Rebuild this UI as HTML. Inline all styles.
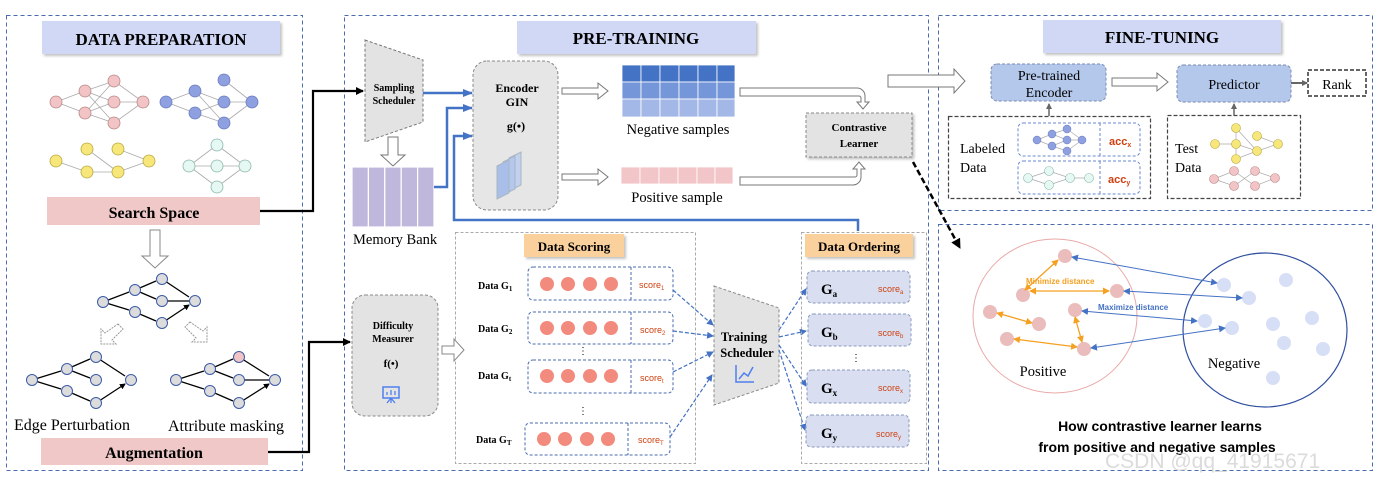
<!DOCTYPE html>
<html><head><meta charset="utf-8"><style>
html,body{margin:0;padding:0;background:#fff}
svg{display:block}
text{font-family:"Liberation Serif",serif}
.s{font-family:"Liberation Sans","DejaVu Sans",sans-serif}
</style></head><body>
<svg width="1379" height="483" viewBox="0 0 1379 483" xmlns="http://www.w3.org/2000/svg">
<defs>
<marker id="ab" markerWidth="8" markerHeight="8" refX="7" refY="4" orient="auto" markerUnits="userSpaceOnUse"><path d="M0,0 L8,4 L0,8z" fill="#000"/></marker>
<marker id="abs" markerWidth="6" markerHeight="6" refX="5" refY="3" orient="auto" markerUnits="userSpaceOnUse"><path d="M0,0 L6,3 L0,6z" fill="#000"/></marker>
<marker id="bl" markerWidth="10" markerHeight="10" refX="9" refY="5" orient="auto" markerUnits="userSpaceOnUse"><path d="M0,1 L10,5 L0,9z" fill="#4472c4"/></marker>
<marker id="bls" markerWidth="7" markerHeight="7" refX="6" refY="3.5" orient="auto-start-reverse" markerUnits="userSpaceOnUse"><path d="M0,0 L7,3.5 L0,7z" fill="#4472c4"/></marker>
<marker id="or" markerWidth="7" markerHeight="7" refX="6" refY="3.5" orient="auto-start-reverse" markerUnits="userSpaceOnUse"><path d="M0,0 L7,3.5 L0,7z" fill="#f5a020"/></marker>
<marker id="gr" markerWidth="6" markerHeight="6" refX="5" refY="3" orient="auto" markerUnits="userSpaceOnUse"><path d="M0,0 L6,3 L0,6z" fill="#666"/></marker>
<marker id="bd" markerWidth="10" markerHeight="10" refX="9" refY="5" orient="auto" markerUnits="userSpaceOnUse"><path d="M0,0 L10,5 L0,10z" fill="#000"/></marker>
<filter id="sh" x="-5%" y="-5%" width="115%" height="130%"><feDropShadow dx="2" dy="2" stdDeviation="1.2" flood-color="#999" flood-opacity="0.6"/></filter>
</defs>

<g fill="none" stroke="#4a6bb0" stroke-width="1" stroke-dasharray="4,3">
<rect x="6.5" y="15.5" width="296" height="455"/>
<rect x="344.5" y="15.5" width="584" height="455"/>
<rect x="938.5" y="15.5" width="434" height="195"/>
<rect x="938.5" y="224.5" width="434" height="246"/>
</g>

<rect x="42" y="21" width="238" height="33" fill="#d0d8f5" filter="url(#sh)"/>
<text x="161" y="45" font-size="17" font-weight="bold" text-anchor="middle">DATA PREPARATION</text>
<rect x="517" y="21" width="239" height="33" fill="#d0d8f5" filter="url(#sh)"/>
<text x="636" y="44" font-size="17" font-weight="bold" text-anchor="middle">PRE-TRAINING</text>
<rect x="1043" y="20" width="238" height="33" fill="#d0d8f5" filter="url(#sh)"/>
<text x="1162" y="43" font-size="17" font-weight="bold" text-anchor="middle">FINE-TUNING</text>

<g stroke="#aaa" stroke-width="0.8" fill="none">
<path d="M56,102L85,91M56,102L85,113M85,91L114,81M85,91L114,102M85,91L114,123M85,113L114,81M85,113L114,102M85,113L114,123M114,81L143,102M114,102L143,102M114,123L143,102"/>
<path d="M166,102L195,91M166,102L195,113M195,91L224,102M195,91L224,123M195,113L224,102M195,113L224,123M224,80L252,102M224,102L252,102M224,123L252,102"/>
<path d="M56,161L87,172M87,149L118,172M87,172L118,172M118,149L149,161M118,172L149,161"/>
<path d="M189,166L217,145M189,166L217,166M189,166L217,187M217,145L245,166M217,166L245,166M217,187L245,166"/>
</g>
<g stroke="#b98888" stroke-width="0.8" fill="#f2c4c6">
<circle cx="56" cy="102" r="6"/><circle cx="85" cy="91" r="6"/><circle cx="85" cy="113" r="6"/><circle cx="114" cy="81" r="6"/><circle cx="114" cy="102" r="6"/><circle cx="114" cy="123" r="6"/><circle cx="143" cy="102" r="6"/></g>
<g stroke="#6a7cc0" stroke-width="0.8" fill="#8ea0e0">
<circle cx="166" cy="102" r="6"/><circle cx="195" cy="91" r="6"/><circle cx="195" cy="113" r="6"/><circle cx="224" cy="80" r="6"/><circle cx="224" cy="102" r="6"/><circle cx="224" cy="123" r="6"/><circle cx="252" cy="102" r="6"/></g>
<g stroke="#b8a840" stroke-width="0.8" fill="#f7e77a">
<circle cx="56" cy="161" r="6"/><circle cx="87" cy="149" r="6"/><circle cx="87" cy="172" r="6"/><circle cx="118" cy="149" r="6"/><circle cx="118" cy="172" r="6"/><circle cx="149" cy="161" r="6"/></g>
<g stroke="#8ab8a8" stroke-width="0.8" fill="#e6f8f3">
<circle cx="217" cy="145" r="6"/><circle cx="189" cy="166" r="6"/><circle cx="217" cy="166" r="6"/><circle cx="245" cy="166" r="6"/><circle cx="217" cy="187" r="6"/></g>

<rect x="47" y="197" width="213" height="28" fill="#f0c8c8"/>
<text x="154" y="218" font-size="16" font-weight="bold" text-anchor="middle">Search Space</text>

<path d="M150,230h10v26h8l-13,12l-13,-12h8z" fill="#fff" stroke="#888"/>

<g stroke="#000" stroke-width="1.3" fill="none" marker-end="url(#abs)">
<path d="M103,302L129,292M135,290L156,281M135,290L156,299M162,279L189,297M162,301L189,301M103,302L129,310M135,312L156,321M162,323L189,305"/>
<path d="M32,380L61,371M67,369L90,359M67,369L90,378M96,357L125,376M32,380L61,389M67,391L90,401M96,403L125,384"/>
<path d="M176,380L204,371M210,369L233,359M210,369L233,378M239,357L269,376M239,380L269,380M176,380L204,389M210,391L233,401M239,403L269,384"/>
</g>
<g stroke="#3a5aa8" stroke-width="1" fill="#dcdcdc">
<circle cx="103" cy="302" r="5.5"/><circle cx="135" cy="290" r="5.5"/><circle cx="162" cy="279" r="5.5"/><circle cx="162" cy="301" r="5.5"/><circle cx="195" cy="301" r="5.5"/><circle cx="135" cy="312" r="5.5"/><circle cx="162" cy="323" r="5.5"/>
<circle cx="32" cy="380" r="5.5"/><circle cx="67" cy="369" r="5.5"/><circle cx="96" cy="357" r="5.5"/><circle cx="96" cy="380" r="5.5"/><circle cx="131" cy="380" r="5.5"/><circle cx="67" cy="391" r="5.5"/><circle cx="96" cy="403" r="5.5"/>
<circle cx="176" cy="380" r="5.5"/><circle cx="210" cy="369" r="5.5"/><circle cx="239" cy="357" r="5.5" fill="#f2c4c6"/><circle cx="239" cy="380" r="5.5"/><circle cx="275" cy="380" r="5.5"/><circle cx="210" cy="391" r="5.5"/><circle cx="239" cy="403" r="5.5"/>
</g>
<path d="M118,324l5,5l-11,11l4,4h-15v-15l4,4z" fill="#fff" stroke="#999" stroke-dasharray="2,1"/>
<path d="M190,322l-5,5l11,11l-4,4h15v-15l-4,4z" fill="#fff" stroke="#999" stroke-dasharray="2,1"/>
<text x="14" y="430" font-size="16">Edge Perturbation</text>
<text x="168" y="431" font-size="16">Attribute masking</text>
<rect x="41" y="438" width="227" height="27" fill="#f0c8c8"/>
<text x="154" y="458" font-size="16" font-weight="bold" text-anchor="middle">Augmentation</text>

<path d="M260,211H313V91H363" fill="none" stroke="#000" stroke-width="2.2" marker-end="url(#ab)"/>
<path d="M268,452H309V342H350" fill="none" stroke="#000" stroke-width="2.2" marker-end="url(#ab)"/>

<path d="M365,40L423,60V122L365,142Z" fill="#e3e3e3" stroke="#777" stroke-dasharray="3,2"/>
<text x="394" y="91" font-size="10" font-weight="bold" text-anchor="middle">Sampling</text>
<text x="394" y="104" font-size="10" font-weight="bold" text-anchor="middle">Scheduler</text>
<path d="M388,137h10v18h7l-12,11l-12,-11h7z" fill="#fff" stroke="#777"/>
<g fill="#c0b8dc" stroke="#fff" stroke-width="1.2">
<rect x="352" y="167" width="16.4" height="60"/><rect x="368.4" y="167" width="16.4" height="60"/><rect x="384.8" y="167" width="16.4" height="60"/><rect x="401.2" y="167" width="16.4" height="60"/><rect x="417.6" y="167" width="16.4" height="60"/></g>
<text x="353" y="244" font-size="14.5">Memory Bank</text>

<rect x="473" y="61" width="85" height="149" rx="14" fill="#e6e6e6" stroke="#888" stroke-dasharray="3,2"/>
<text x="517" y="92" font-size="12" font-weight="bold" text-anchor="middle">Encoder</text>
<text x="517" y="106" font-size="12" font-weight="bold" text-anchor="middle">GIN</text>
<text x="516" y="130" font-size="12" font-weight="bold" text-anchor="middle">g(•)</text>
<g opacity="0.8"><path d="M509,158l12,-6v33l-12,6z" fill="#b9cdf0" stroke="#9ab"/><path d="M503,162l12,-6v33l-12,6z" fill="#a8c0ee" stroke="#9ab"/><path d="M497,166l12,-6v33l-12,6z" fill="#9bb6ea" stroke="#9ab"/></g>

<g fill="none" stroke="#4472c4" stroke-width="2.5">
<path d="M423,93H472" marker-end="url(#bl)"/>
<path d="M434,187H447V108H472" marker-end="url(#bl)"/>
<path d="M858,231V220H454V136H472" marker-end="url(#bl)"/>
</g>

<path d="M562,88h36v-5l10,8l-10,8v-5h-36z" fill="#fff" stroke="#777"/>
<path d="M562,174h36v-5l10,8l-10,8v-5h-36z" fill="#fff" stroke="#777"/>

<g stroke="#fff" stroke-width="0.8">
<g fill="#4472c4"><rect x="622" y="65" width="19" height="17"/><rect x="641" y="65" width="19" height="17"/><rect x="660" y="65" width="19" height="17"/><rect x="679" y="65" width="19" height="17"/><rect x="698" y="65" width="19" height="17"/><rect x="717" y="65" width="18" height="17"/></g>
<g fill="#7596d8"><rect x="622" y="82" width="19" height="17"/><rect x="641" y="82" width="19" height="17"/><rect x="660" y="82" width="19" height="17"/><rect x="679" y="82" width="19" height="17"/><rect x="698" y="82" width="19" height="17"/><rect x="717" y="82" width="18" height="17"/></g>
<g fill="#a3b8e6"><rect x="622" y="99" width="19" height="18"/><rect x="641" y="99" width="19" height="18"/><rect x="660" y="99" width="19" height="18"/><rect x="679" y="99" width="19" height="18"/><rect x="698" y="99" width="19" height="18"/><rect x="717" y="99" width="18" height="18"/></g>
<g fill="#f2c6c9"><rect x="621" y="167" width="19" height="17"/><rect x="640" y="167" width="19" height="17"/><rect x="659" y="167" width="19" height="17"/><rect x="678" y="167" width="19" height="17"/><rect x="697" y="167" width="18" height="17"/><rect x="715" y="167" width="18" height="17"/></g>
</g>
<text x="678" y="134" font-size="14.5" text-anchor="middle">Negative samples</text>
<text x="677" y="202" font-size="14.5" text-anchor="middle">Positive sample</text>

<path d="M740,88H857a8,8 0 0 1 8,8V102h4l-6,7l-6,-7h4V98a2,2 0 0 0 -2,-2H740z" fill="#fff" stroke="#777"/>
<path d="M740,177H855a2,2 0 0 0 2,-2V169h-4l6,-7l6,7h-4V177a8,8 0 0 1 -8,8H740z" fill="#fff" stroke="#777"/>

<rect x="806" y="113" width="106" height="44" fill="#e3e3e3" stroke="#888" stroke-dasharray="3,2" filter="url(#sh)"/>
<text x="859" y="131" font-size="11" font-weight="bold" text-anchor="middle">Contrastive</text>
<text x="859" y="147" font-size="11" font-weight="bold" text-anchor="middle">Learner</text>
<path d="M913,162L960,248" stroke="#000" stroke-width="2.5" stroke-dasharray="6,3" fill="none" marker-end="url(#bd)"/>
<path d="M888,75h66v-6l11,12l-11,12v-6h-66z" fill="#fff" stroke="#777"/>

<rect x="455.5" y="232.5" width="240" height="231" fill="none" stroke="#aaa" stroke-dasharray="3,2"/>
<rect x="524" y="234" width="100" height="23" fill="#fad09c" filter="url(#sh)"/>
<text x="574" y="251" font-size="13" font-weight="bold" text-anchor="middle">Data Scoring</text>
<g fill="none" stroke="#4a6bb0" stroke-dasharray="3,2">
<rect x="528" y="267" width="145" height="33" rx="5"/><line x1="631" y1="267" x2="631" y2="300"/>
<rect x="528" y="312" width="145" height="32" rx="5"/><line x1="631" y1="312" x2="631" y2="344"/>
<rect x="528" y="360" width="145" height="33" rx="5"/><line x1="631" y1="360" x2="631" y2="393"/>
<rect x="525" y="423" width="145" height="32" rx="5"/><line x1="628" y1="423" x2="628" y2="455"/>
</g>
<g fill="#f28b7e">
<circle cx="547" cy="284" r="7"/><circle cx="568" cy="284" r="7"/><circle cx="590" cy="284" r="7"/><circle cx="611" cy="284" r="7"/>
<circle cx="547" cy="328" r="7"/><circle cx="568" cy="328" r="7"/><circle cx="590" cy="328" r="7"/><circle cx="611" cy="328" r="7"/>
<circle cx="547" cy="376" r="7"/><circle cx="568" cy="376" r="7"/><circle cx="590" cy="376" r="7"/><circle cx="611" cy="376" r="7"/>
<circle cx="544" cy="439" r="7"/><circle cx="565" cy="439" r="7"/><circle cx="587" cy="439" r="7"/><circle cx="608" cy="439" r="7"/>
</g>
<g font-size="9" fill="#d04010">
<text x="639" y="288" class="s">score<tspan font-size="6" dy="2">1</tspan></text>
<text x="640" y="333" class="s">score<tspan font-size="6" dy="2">2</tspan></text>
<text x="640" y="381" class="s">score<tspan font-size="6" dy="2">t</tspan></text>
<text x="638" y="443" class="s">score<tspan font-size="6" dy="2">T</tspan></text>
</g>
<g font-size="10" font-weight="bold">
<text x="478" y="289">Data G<tspan font-size="7" dy="2">1</tspan></text>
<text x="478" y="332">Data G<tspan font-size="7" dy="2">2</tspan></text>
<text x="478" y="379">Data G<tspan font-size="7" dy="2">t</tspan></text>
<text x="476" y="443">Data G<tspan font-size="7" dy="2">T</tspan></text>
</g>
<text x="583" y="354" font-size="10" text-anchor="middle">⋮</text>
<text x="583" y="414" font-size="10" text-anchor="middle">⋮</text>
<path d="M442,346h12v-7l10,11l-10,11v-7h-12z" fill="#fff" stroke="#888"/>

<rect x="352" y="295" width="86" height="121" rx="13" fill="#e3e3e3" stroke="#888" stroke-dasharray="3,2"/>
<text x="393" y="329" font-size="10" font-weight="bold" text-anchor="middle">Difficulty</text>
<text x="393" y="342" font-size="10" font-weight="bold" text-anchor="middle">Measurer</text>
<text x="391" y="367" font-size="11" font-weight="bold" text-anchor="middle">f(•)</text>
<rect x="383" y="387" width="16" height="11" fill="none" stroke="#4f7ff0" stroke-width="1.5"/><path d="M387,395v-3M391,395v-5M395,395v-4M391,398v5M387,403l4,-5l4,5" stroke="#4f7ff0" stroke-width="1.3" fill="none"/>

<path d="M714,286L779,308V383L714,405Z" fill="#e3e3e3" stroke="#888" stroke-dasharray="3,2"/>
<text x="744" y="341" font-size="12.5" font-weight="bold" text-anchor="middle">Training</text>
<text x="747" y="357" font-size="12.5" font-weight="bold" text-anchor="middle">Scheduler</text>
<path d="M736,365v17h18M739,379l5,-6l4,3l5,-9" fill="none" stroke="#4f7ff0" stroke-width="1.5"/>

<g fill="none" stroke="#4472c4" stroke-width="1.2" stroke-dasharray="4,2">
<path d="M673,290L713,325" marker-end="url(#bls)"/>
<path d="M673,331L713,336" marker-end="url(#bls)"/>
<path d="M673,372L713,352" marker-end="url(#bls)"/>
<path d="M670,437L712,375" marker-end="url(#bls)"/>
<path d="M779,330L806,289" marker-end="url(#bls)"/>
<path d="M779,337L806,331" marker-end="url(#bls)"/>
<path d="M779,345L806,386" marker-end="url(#bls)"/>
<path d="M779,350L805,430" marker-end="url(#bls)"/>
</g>

<rect x="801.5" y="232.5" width="125" height="231" fill="none" stroke="#aaa" stroke-dasharray="3,2"/>
<rect x="805" y="234" width="108" height="23" fill="#fad09c" filter="url(#sh)"/>
<text x="859" y="251" font-size="13" font-weight="bold" text-anchor="middle">Data Ordering</text>
<g fill="#d9dff0" stroke="#8a9ac0" stroke-dasharray="3,2">
<rect x="807" y="271" width="103" height="32" rx="5"/><rect x="808" y="314" width="103" height="32" rx="5"/><rect x="807" y="370" width="103" height="33" rx="5"/><rect x="806" y="415" width="103" height="32" rx="5"/>
</g>
<g font-size="15" font-weight="bold">
<text x="821" y="294">G<tspan font-size="9" dy="3">a</tspan></text>
<text x="821" y="337">G<tspan font-size="9" dy="3">b</tspan></text>
<text x="821" y="393">G<tspan font-size="9" dy="3">x</tspan></text>
<text x="821" y="438">G<tspan font-size="9" dy="3">y</tspan></text>
</g>
<g font-size="9" fill="#d04010">
<text x="878" y="292" class="s">score<tspan font-size="6" dy="2">a</tspan></text>
<text x="878" y="336" class="s">score<tspan font-size="6" dy="2">b</tspan></text>
<text x="878" y="391" class="s">score<tspan font-size="6" dy="2">x</tspan></text>
<text x="876" y="437" class="s">score<tspan font-size="6" dy="2">y</tspan></text>
</g>
<text x="856" y="361" font-size="10" text-anchor="middle">⋮</text>

<rect x="991" y="64" width="115" height="37" rx="6" fill="#b4c8ec" stroke="#7a8ab0" stroke-dasharray="3,2"/>
<text x="1049" y="80" font-size="14" text-anchor="middle">Pre-trained</text>
<text x="1049" y="97" font-size="14" text-anchor="middle">Encoder</text>
<path d="M1112,78h45v-5l11,9l-11,9v-5h-45z" fill="#fff" stroke="#777"/>
<rect x="1177" y="65" width="114" height="37" rx="6" fill="#b4c8ec" stroke="#7a8ab0" stroke-dasharray="3,2"/>
<text x="1234" y="89" font-size="14" text-anchor="middle">Predictor</text>
<path d="M1291,83H1307" stroke="#666" stroke-width="2" marker-end="url(#gr)"/>
<rect x="1308" y="70" width="58" height="26" fill="none" stroke="#666" stroke-width="2" stroke-dasharray="4,2"/>
<text x="1337" y="89" font-size="14" text-anchor="middle">Rank</text>

<rect x="948.5" y="116.5" width="202" height="82" fill="none" stroke="#444" stroke-width="1.2" stroke-dasharray="4,2"/>
<path d="M1049,116V104" stroke="#666" stroke-width="1.5" marker-end="url(#gr)"/>
<text x="960" y="153" font-size="14">Labeled</text>
<text x="960" y="172" font-size="14">Data</text>
<g fill="none" stroke="#6a8ad0" stroke-dasharray="3,2"><rect x="1018" y="123" width="122" height="33" rx="5"/><line x1="1100" y1="123" x2="1100" y2="156"/><rect x="1018" y="161" width="122" height="33" rx="5"/><line x1="1100" y1="161" x2="1100" y2="194"/></g>
<g stroke="#aaa" stroke-width="0.7" fill="none"><path d="M1037,140L1052,134L1067,140L1082,140M1052,134L1067,129M1037,140L1052,146L1067,151M1052,146L1067,140M1067,129L1082,140M1067,151L1082,140"/><path d="M1028,178L1049,171L1070,178L1089,178M1028,178L1049,185L1070,178"/></g>
<g fill="#8ea0e0" stroke="#6a7cc0" stroke-width="0.5"><circle cx="1037" cy="140" r="4"/><circle cx="1052" cy="134" r="4"/><circle cx="1052" cy="146" r="4"/><circle cx="1067" cy="129" r="4"/><circle cx="1067" cy="140" r="4"/><circle cx="1067" cy="151" r="4"/><circle cx="1082" cy="140" r="4"/></g>
<g fill="#e6f8f3" stroke="#8ab8a8" stroke-width="0.6"><circle cx="1028" cy="178" r="4.5"/><circle cx="1049" cy="171" r="4.5"/><circle cx="1049" cy="185" r="4.5"/><circle cx="1070" cy="178" r="4.5"/><circle cx="1089" cy="178" r="4.5"/></g>
<text x="1109" y="145" class="s" font-size="11" font-weight="bold" fill="#d04010">acc<tspan font-size="7" dy="2">x</tspan></text>
<text x="1108" y="183" class="s" font-size="11" font-weight="bold" fill="#d04010">acc<tspan font-size="7" dy="2">y</tspan></text>

<rect x="1167.5" y="115.5" width="133" height="83" fill="none" stroke="#444" stroke-width="1.2" stroke-dasharray="4,2"/>
<path d="M1234,115V104" stroke="#666" stroke-width="1.5" marker-end="url(#gr)"/>
<text x="1175" y="153" font-size="14">Test</text>
<text x="1175" y="172" font-size="14">Data</text>
<g stroke="#aaa" stroke-width="0.7" fill="none"><path d="M1215,144L1236,144L1257,151L1278,144M1236,128L1236,144M1236,128L1257,151M1257,136L1278,144M1236,144L1236,159L1257,151"/><path d="M1214,179L1234,171L1255,186L1275,178M1214,179L1234,186L1255,171L1275,178"/></g>
<g fill="#f7e77a" stroke="#b8a840" stroke-width="0.6"><circle cx="1236" cy="128" r="4.5"/><circle cx="1215" cy="144" r="4.5"/><circle cx="1236" cy="144" r="4.5"/><circle cx="1257" cy="136" r="4.5"/><circle cx="1257" cy="151" r="4.5"/><circle cx="1278" cy="144" r="4.5"/><circle cx="1236" cy="159" r="4.5"/></g>
<g fill="#f2c4c6" stroke="#b98888" stroke-width="0.6"><circle cx="1214" cy="179" r="4.5"/><circle cx="1234" cy="171" r="4.5"/><circle cx="1234" cy="186" r="4.5"/><circle cx="1255" cy="171" r="4.5"/><circle cx="1255" cy="186" r="4.5"/><circle cx="1275" cy="178" r="4.5"/></g>

<ellipse cx="1055" cy="316" rx="82" ry="77" fill="#fff" stroke="#eaa8a8"/>
<ellipse cx="1265" cy="330" rx="82" ry="77" fill="none" stroke="#2f4f9f" stroke-width="1.2"/>
<g fill="#d6dff5">
<circle cx="1224" cy="285" r="7"/><circle cx="1249" cy="298" r="7"/><circle cx="1286" cy="280" r="7"/><circle cx="1205" cy="321" r="7"/><circle cx="1232" cy="328" r="7"/><circle cx="1273" cy="324" r="7"/><circle cx="1312" cy="318" r="7"/><circle cx="1284" cy="343" r="7"/><circle cx="1323" cy="349" r="7"/><circle cx="1273" cy="378" r="7"/></g>
<g fill="#ebbcbc">
<circle cx="1065" cy="256" r="7"/><circle cx="1023" cy="295" r="7"/><circle cx="1117" cy="291" r="7"/><circle cx="990" cy="312" r="7"/><circle cx="1039" cy="324" r="7"/><circle cx="1075" cy="310" r="7"/><circle cx="1007" cy="339" r="7"/><circle cx="1084" cy="349" r="7"/></g>
<g stroke="#f5a020" stroke-width="1.3" fill="none" marker-start="url(#or)" marker-end="url(#or)">
<path d="M1025,290L1058,260"/><path d="M1030,291H1109"/><path d="M997,313L1032,323"/><path d="M1014,339L1077,347"/><path d="M1075,317L1082,342"/></g>
<g stroke="#4472c4" stroke-width="1" fill="none" marker-start="url(#bls)" marker-end="url(#bls)">
<path d="M1072,257L1217,283"/><path d="M1124,291L1242,298"/><path d="M1082,311L1197,321"/><path d="M1091,348L1225,328"/></g>
<text x="1026" y="284" class="s" font-size="8" font-weight="bold" fill="#f5a020">Minimize distance</text>
<text x="1098" y="310" class="s" font-size="8" font-weight="bold" fill="#4472c4">Maximize distance</text>
<text x="1043" y="376" font-size="14.5" text-anchor="middle">Positive</text>
<text x="1234" y="368" font-size="14.5" text-anchor="middle">Negative</text>
<text x="1160" y="431" class="s" font-size="14" font-weight="bold" text-anchor="middle">How contrastive learner learns</text>
<text x="1157" y="452" class="s" font-size="14" font-weight="bold" text-anchor="middle">from positive and negative samples</text>
<text x="1105" y="468" class="s" font-size="21" fill="#ccc" fill-opacity="0.7">CSDN @qq_41915671</text>
</svg>
</body></html>
